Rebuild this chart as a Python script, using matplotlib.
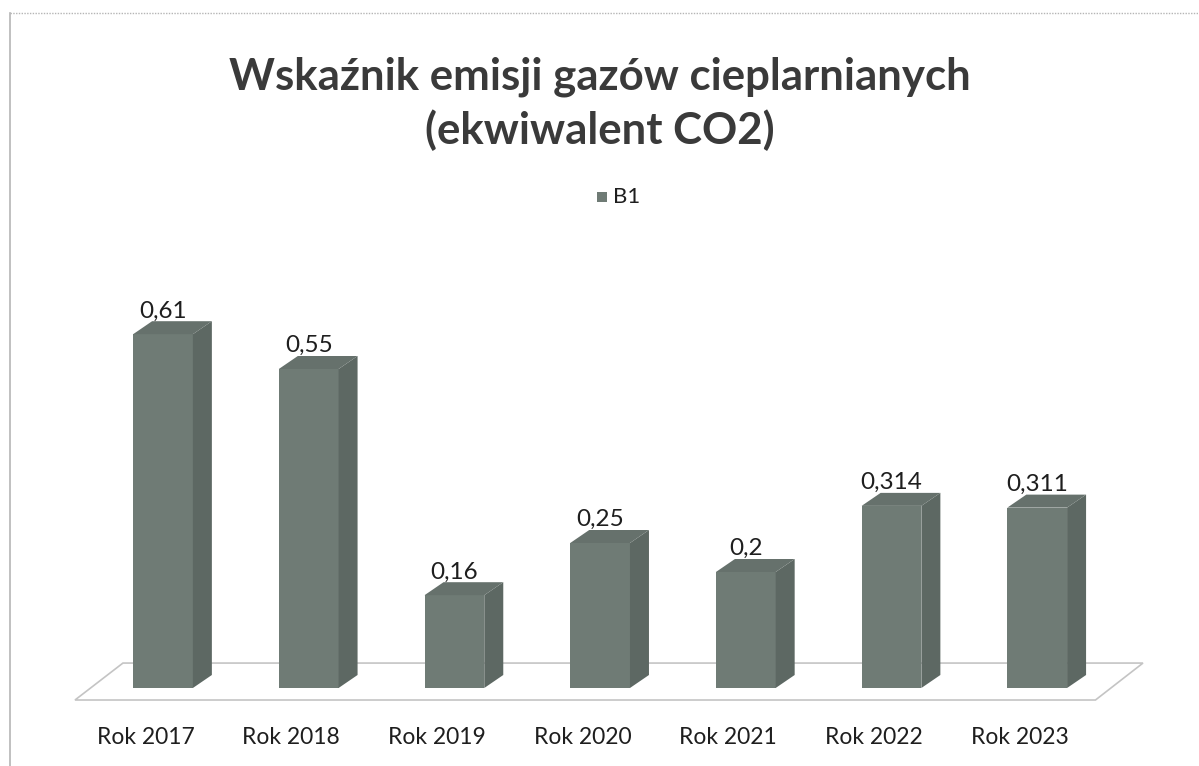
import matplotlib
matplotlib.use("Agg")
from matplotlib import pyplot as plt
from matplotlib.patches import Polygon, Rectangle
from matplotlib.lines import Line2D

plt.rcParams['font.family'] = ['Lato', 'DejaVu Sans']

# data
categories = ["Rok 2017", "Rok 2018", "Rok 2019", "Rok 2020", "Rok 2021", "Rok 2022", "Rok 2023"]
values = [0.61, 0.55, 0.16, 0.25, 0.2, 0.314, 0.311]
value_labels = ["0,61", "0,55", "0,16", "0,25", "0,2", "0,314", "0,311"]
series_name = "B1"

front_col = "#6f7b75"
side_col = "#5d6863"
top_col = "#66716c"

W, H = 1199, 766
fig = plt.figure(figsize=(W / 100, H / 100), dpi=100)

# axes placed so that one category step is ~146 px and 1.0 on y is ~580 px
x_step = 145.7
y_unit = 580.0
x0_px = 163 - 0.5 * x_step
ax_w = 7 * x_step
y0_px = 688                 # baseline (from top)
ymin, ymax = -0.1, 0.8
ax_bottom = H - (y0_px - ymin * y_unit)
ax_h = (ymax - ymin) * y_unit
ax = fig.add_axes([x0_px / W, ax_bottom / H, ax_w / W, ax_h / H])
ax.set_xlim(-0.5, 6.5)
ax.set_ylim(ymin, ymax)
ax.axis("off")

# chart border (left and top only visible)
fig.add_artist(Line2D([10 / W, 10 / W], [0, 1 - 13 / H], color="#b5b5b5", lw=1.2))
fig.add_artist(Line2D([10 / W, 1], [1 - 13 / H, 1 - 13 / H], color="#b5b5b5", lw=1.0, ls=(0, (1, 1))))

# floor
fx = [-0.604, 6.40, 6.726, -0.275]
fy = [-0.0207, -0.0207, 0.043, 0.043]
ax.add_patch(Polygon(list(zip(fx, fy)), closed=True, facecolor="white",
                     edgecolor="#c4c4c4", lw=1.2, zorder=1, clip_on=False))

# bars with a fake depth
bw = 0.41
ddx = 19 / x_step
ddy = 13 / y_unit
xs = list(range(len(values)))
ax.bar(xs, values, width=bw, color=front_col, zorder=3)
for x, v in zip(xs, values):
    r = x + bw / 2
    l = x - bw / 2
    ax.add_patch(Polygon([(r, 0), (r + ddx, ddy), (r + ddx, v + ddy), (r, v)],
                         closed=True, facecolor=side_col, edgecolor="none", zorder=3))
    ax.add_patch(Polygon([(l, v), (l + ddx, v + ddy), (r + ddx, v + ddy), (r, v)],
                         closed=True, facecolor=top_col, edgecolor="none", zorder=3))

for x, v, lab in zip(xs, values, value_labels):
    ax.text(x, v + 0.022, lab, ha="center", va="bottom", fontsize=17.5, color="#1e1e1e", zorder=4)

for x, c in zip(xs, categories):
    ax.text(x - 0.12, -0.086, c, ha="center", va="center", fontsize=16.5, color="#1e1e1e")

# title and legend
fig.text(0.5, 1 - 77 / H, "Wskaźnik emisji gazów cieplarnianych", ha="center", va="center",
         fontsize=31.5, fontweight="bold", color="#3a3a3a")
fig.text(0.5, 1 - 130 / H, "(ekwiwalent CO2)", ha="center", va="center",
         fontsize=31.5, fontweight="bold", color="#3a3a3a")
fig.add_artist(Rectangle((597 / W, 1 - 202 / H), 10 / W, 10 / H, facecolor=front_col,
                         edgecolor="none", transform=fig.transFigure))
fig.text(613 / W, 1 - 197 / H, series_name, ha="left", va="center", fontsize=16, color="#1e1e1e")

fig.savefig("out.png", dpi=100, facecolor="white")
